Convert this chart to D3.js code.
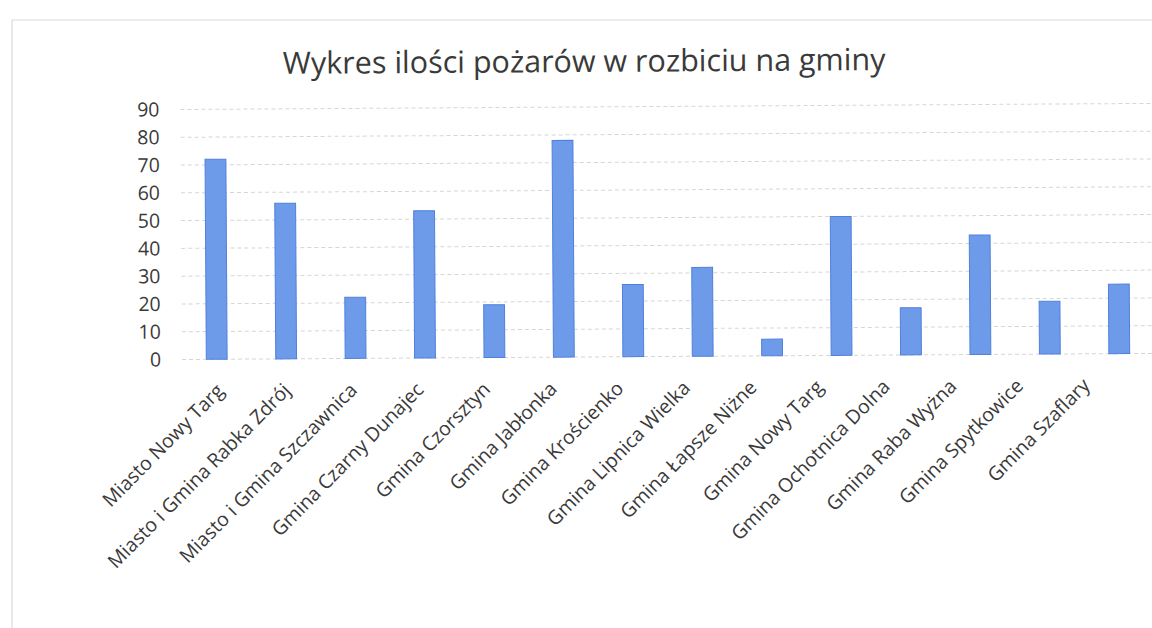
<!DOCTYPE html>
<html>
<head>
<meta charset="utf-8">
<script src="https://cdn.jsdelivr.net/npm/d3@7"></script>
<style>
  body { margin: 0; background: #fff; }
  svg { display: block; font-family: "Open Sans", "Noto Sans", sans-serif; }
</style>
</head>
<body>
<svg id="chart" width="1152" height="628"></svg>
<script>
const title = "Wykres ilości pożarów w rozbiciu na gminy"

const gminy = [
  "Miasto Nowy Targ",
  "Miasto i Gmina Rabka Zdrój",
  "Miasto i Gmina Szczawnica",
  "Gmina Czarny Dunajec",
  "Gmina Czorsztyn",
  "Gmina Jabłonka",
  "Gmina Krościenko",
  "Gmina Lipnica Wielka",
  "Gmina Łapsze Niżne",
  "Gmina Nowy Targ",
  "Gmina Ochotnica Dolna",
  "Gmina Raba Wyżna",
  "Gmina Spytkowice",
  "Gmina Szaflary"
]

const pozary = [72, 56, 22, 53, 19, 78, 26, 32, 6, 50, 17, 43, 19, 25]

const yTicks = [0, 10, 20, 30, 40, 50, 60, 70, 80, 90]

const svg = d3.select("#chart")

// chart border (top and left edge visible)
svg.append("path")
  .attr("d", "M12,628V20H1152")
  .attr("fill", "none")
  .attr("stroke", "#dadada")
  .attr("stroke-width", 1.2)

// the scan is a bit tilted, so the whole chart is too
const g = svg.append("g")
  .attr("transform", "rotate(-0.36, 580, 357)")

const x = d3.scaleBand()
  .domain(gminy)
  .range([182, 1154])
  .paddingInner(0.7)
  .paddingOuter(0.35)

const y = d3.scaleLinear()
  .domain([0, 90])
  .range([357, 107])

// labels sit a little tighter than the bars in the scan
const xLabel = d3.scalePoint()
  .domain(gminy)
  .range([220, 1086])

g.append("text")
  .attr("x", 586)
  .attr("y", 72)
  .attr("text-anchor", "middle")
  .attr("font-size", 30.5)
  .attr("fill", "#3a3a3a")
  .text(title)

g.append("g")
  .selectAll("line")
  .data(yTicks)
  .join("line")
  .attr("x1", x.range()[0])
  .attr("x2", x.range()[1])
  .attr("y1", d => y(d))
  .attr("y2", d => y(d))
  .attr("stroke", "#d6d6d6")
  .attr("stroke-dasharray", "4,3")

g.append("g")
  .selectAll("text")
  .data(yTicks)
  .join("text")
  .attr("x", 161)
  .attr("y", d => y(d))
  .attr("dy", "0.35em")
  .attr("text-anchor", "end")
  .attr("font-size", 19.5)
  .attr("fill", "#3a3a3a")
  .text(d => d)

g.append("g")
  .selectAll("rect")
  .data(pozary)
  .join("rect")
  .attr("x", (d, i) => x(gminy[i]))
  .attr("y", d => y(d))
  .attr("width", x.bandwidth())
  .attr("height", d => y(0) - y(d))
  .attr("fill", "#6d9bea")
  .attr("stroke", "#4f80dd")
  .attr("stroke-width", 1)

g.append("g")
  .selectAll("text")
  .data(gminy)
  .join("text")
  .attr("transform", d => `translate(${xLabel(d)},${y(0) + 28}) rotate(-45)`)
  .attr("text-anchor", "end")
  .attr("dy", "0.35em")
  .attr("font-size", 19.5)
  .attr("fill", "#3a3a3a")
  .text(d => d)
</script>
</body>
</html>
